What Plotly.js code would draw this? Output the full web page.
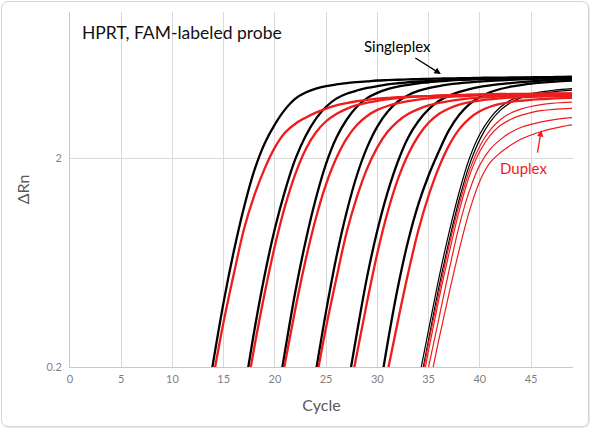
<!DOCTYPE html>
<html>
<head>
<meta charset="utf-8">
<script src="https://cdn.plot.ly/plotly-3.0.1.min.js"></script>
<style>
  html, body { margin: 0; padding: 0; background: #fff; }
  #wrap { position: relative; width: 590px; height: 428px; overflow: hidden; }
  #chart { position: absolute; left: 0; top: 0; width: 590px; height: 428px; }
  #frame {
    position: absolute; left: 1px; top: 1px; width: 586px; height: 424px;
    border: 1px solid #d4d4d4; border-radius: 7px;
    box-shadow: 1px 1px 2px rgba(0,0,0,0.12);
    pointer-events: none;
  }
</style>
</head>
<body>
<div id="wrap">
  <div id="chart"></div>
  <div id="frame"></div>
</div>
<script>
(function () {
  'use strict';

  /* Cycle at which each curve's value list begins (one value per cycle) */
  var singleStart = [13, 17, 20, 24, 27, 30, 34, 34];
  var duplexStart = [14, 17, 20, 24, 27, 31, 34, 34, 35, 35];

  /* Singleplex ΔRn */
  var singleValues = [
    [0.107, 0.214, 0.41, 0.72, 1.17, 1.75, 2.35, 2.9, 3.42, 3.85, 4.12, 4.3, 4.42, 4.5, 4.57, 4.62, 4.66, 4.7, 4.72, 4.74, 4.76, 4.77, 4.79, 4.8, 4.81, 4.82, 4.83, 4.84, 4.85, 4.85, 4.86, 4.87, 4.87, 4.88, 4.88, 4.89, 4.9],
    [0.15, 0.30, 0.55, 0.92, 1.4, 1.98, 2.55, 3.08, 3.52, 3.85, 4.06, 4.21, 4.33, 4.42, 4.5, 4.56, 4.61, 4.65, 4.68, 4.71, 4.73, 4.75, 4.77, 4.79, 4.8, 4.81, 4.82, 4.83, 4.84, 4.85, 4.86, 4.87, 4.88],
    [0.12, 0.24, 0.46, 0.8, 1.28, 1.88, 2.5, 3.05, 3.52, 3.87, 4.1, 4.27, 4.39, 4.48, 4.56, 4.61, 4.66, 4.7, 4.73, 4.75, 4.77, 4.79, 4.8, 4.82, 4.83, 4.84, 4.85, 4.86, 4.87, 4.88],
    [0.19, 0.37, 0.67, 1.1, 1.65, 2.25, 2.83, 3.33, 3.73, 4.0, 4.19, 4.32, 4.42, 4.5, 4.56, 4.61, 4.65, 4.68, 4.71, 4.74, 4.76, 4.78, 4.8, 4.82, 4.83, 4.84],
    [0.15, 0.29, 0.54, 0.9, 1.37, 1.92, 2.5, 3.0, 3.42, 3.75, 3.98, 4.15, 4.28, 4.38, 4.45, 4.52, 4.57, 4.62, 4.66, 4.7, 4.73, 4.76, 4.78],
    [0.13, 0.26, 0.48, 0.8, 1.2, 1.65, 2.15, 2.72, 3.22, 3.62, 3.92, 4.13, 4.28, 4.39, 4.47, 4.54, 4.59, 4.63, 4.67, 4.7],
    [0.17, 0.3, 0.53, 0.88, 1.38, 2.0, 2.6, 3.1, 3.5, 3.78, 3.96, 4.07, 4.15, 4.21, 4.26, 4.3],
    [0.15, 0.27, 0.48, 0.8, 1.27, 1.86, 2.45, 2.97, 3.38, 3.68, 3.88, 4.0, 4.08, 4.14, 4.19, 4.23]
  ];

  /* Duplex ΔRn */
  var duplexValues = [
    [0.18, 0.33, 0.56, 0.92, 1.33, 1.78, 2.25, 2.65, 2.92, 3.12, 3.3, 3.45, 3.57, 3.66, 3.74, 3.8, 3.85, 3.88, 3.91, 3.93, 3.95, 3.96, 3.98, 3.99, 4.0, 4.01, 4.02, 4.03, 4.03, 4.04, 4.04, 4.05, 4.05, 4.06, 4.06, 4.07],
    [0.13, 0.25, 0.45, 0.76, 1.18, 1.68, 2.2, 2.65, 3.0, 3.25, 3.44, 3.58, 3.68, 3.76, 3.82, 3.87, 3.91, 3.94, 3.96, 3.98, 4.0, 4.01, 4.02, 4.03, 4.04, 4.05, 4.05, 4.06, 4.06, 4.07, 4.07, 4.08, 4.08],
    [0.11, 0.21, 0.38, 0.65, 1.03, 1.5, 2.0, 2.48, 2.88, 3.18, 3.4, 3.55, 3.66, 3.75, 3.81, 3.86, 3.9, 3.93, 3.95, 3.97, 3.99, 4.0, 4.01, 4.02, 4.03, 4.04, 4.04, 4.05, 4.05, 4.06],
    [0.17, 0.31, 0.53, 0.88, 1.3, 1.78, 2.25, 2.67, 3.0, 3.25, 3.43, 3.57, 3.67, 3.75, 3.81, 3.86, 3.89, 3.92, 3.94, 3.96, 3.97, 3.98, 3.99, 4.0, 4.01, 4.02],
    [0.13, 0.23, 0.41, 0.7, 1.1, 1.58, 2.08, 2.55, 2.95, 3.25, 3.45, 3.6, 3.7, 3.77, 3.82, 3.86, 3.89, 3.91, 3.93, 3.94, 3.95, 3.96, 3.97],
    [0.19, 0.33, 0.56, 0.9, 1.32, 1.8, 2.3, 2.75, 3.1, 3.35, 3.52, 3.63, 3.71, 3.76, 3.8, 3.83, 3.85, 3.87, 3.88],
    [0.14, 0.26, 0.45, 0.76, 1.2, 1.75, 2.28, 2.72, 3.05, 3.28, 3.43, 3.53, 3.6, 3.65, 3.68, 3.7],
    [0.13, 0.24, 0.42, 0.7, 1.12, 1.65, 2.15, 2.56, 2.86, 3.06, 3.2, 3.3, 3.37, 3.41, 3.44, 3.46],
    [0.2, 0.34, 0.58, 0.95, 1.4, 1.85, 2.2, 2.45, 2.65, 2.8, 2.9, 2.98, 3.04, 3.09, 3.12],
    [0.155, 0.27, 0.45, 0.73, 1.12, 1.55, 1.9, 2.12, 2.3, 2.46, 2.58, 2.68, 2.76, 2.83, 2.88]
  ];

  var xTicks = [0, 5, 10, 15, 20, 25, 30, 35, 40, 45];
  var yTicks = [0.2, 2];
  var yTickText = ['0.2', '2'];

  var BLACK = '#000000';
  var RED   = '#ee1c1c';
  var GRID  = '#d9d9d9';
  var FONT  = 'Lato, "Open Sans", sans-serif';

  function curve(start, values, color, width) {
    return {
      x: values.map(function (v, j) { return start + j; }),
      y: values,
      type: 'scatter',
      mode: 'lines',
      line: { color: color, width: width, shape: 'spline', smoothing: 1 },
      hoverinfo: 'skip',
      showlegend: false
    };
  }

  function render(id) {
    var traces = [];
    /* replicate bundles are drawn as one heavier line; the late, spread
       replicates keep their own thin lines */
    singleValues.forEach(function (vals, i) {
      traces.push(curve(singleStart[i], vals, BLACK, i < 6 ? 2.3 : 1.2));
    });
    duplexValues.forEach(function (vals, i) {
      traces.push(curve(duplexStart[i], vals, RED, i < 6 ? 2.3 : 1.2));
    });

    var annotations = [
      { x: 397, y: 46, xref: 'paper', yref: 'paper', text: 'Singleplex',
        xanchor: 'center', yanchor: 'middle',
        showarrow: false, font: { size: 15, color: BLACK } },
      { x: 36.2, y: Math.log10(5.05), xref: 'x', yref: 'y', text: '',
        showarrow: true, arrowhead: 2, arrowsize: 1, arrowwidth: 1.3,
        arrowcolor: BLACK, ax: -27, ay: -17 },
      { x: 523, y: 168, xref: 'paper', yref: 'paper', text: 'Duplex',
        xanchor: 'center', yanchor: 'middle',
        showarrow: false, font: { size: 15, color: RED } },
      { x: 46.0, y: Math.log10(2.72), xref: 'x', yref: 'y', text: '',
        showarrow: true, arrowhead: 2, arrowsize: 1, arrowwidth: 1.3,
        arrowcolor: RED, ax: -4, ay: 24 }
    ];
    /* pixel positions for the two labels -> paper fractions */
    annotations.forEach(function (a) {
      if (a.xref === 'paper') {
        a.x = (a.x - 70) / 503;
        a.y = (367 - a.y) / 355;
      }
    });

    var layout = {
      width: 590,
      height: 428,
      margin: { l: 70, r: 17, t: 12, b: 61 },
      title: {
        text: 'HPRT, FAM-labeled probe',
        font: { size: 17.5, color: '#111', family: FONT },
        x: 82 / 590, xanchor: 'left',
        y: 1 - 33 / 428, yanchor: 'middle'
      },
      xaxis: {
        range: [0, 49.1],
        tickvals: xTicks,
        tickfont: { size: 11, color: '#7f7f7f', family: FONT },
        ticklabelstandoff: 2,
        gridcolor: GRID, gridwidth: 1,
        showline: true, linecolor: '#c8c8c8', linewidth: 1,
        zeroline: false, ticks: '',
        title: { text: 'Cycle', font: { size: 16, color: '#595959', family: FONT }, standoff: 15 },
        fixedrange: true
      },
      yaxis: {
        type: 'log',
        range: [Math.log10(0.2), 1],
        tickvals: yTicks,
        ticktext: yTickText,
        tickfont: { size: 11, color: '#7f7f7f', family: FONT },
        ticklabelstandoff: 5,
        gridcolor: GRID, gridwidth: 1,
        showline: true, linecolor: '#c8c8c8', linewidth: 1,
        zeroline: false, ticks: '',
        title: { text: 'ΔRn', font: { size: 16, color: '#595959', family: FONT }, standoff: 12 },
        fixedrange: true
      },
      annotations: annotations,
      showlegend: false,
      paper_bgcolor: 'rgba(0,0,0,0)',
      plot_bgcolor: '#ffffff',
      font: { family: FONT },
      dragmode: false
    };

    Plotly.newPlot(id, traces, layout, { displayModeBar: false, staticPlot: true });
  }

  render('chart');
})();
</script>
</body>
</html>
